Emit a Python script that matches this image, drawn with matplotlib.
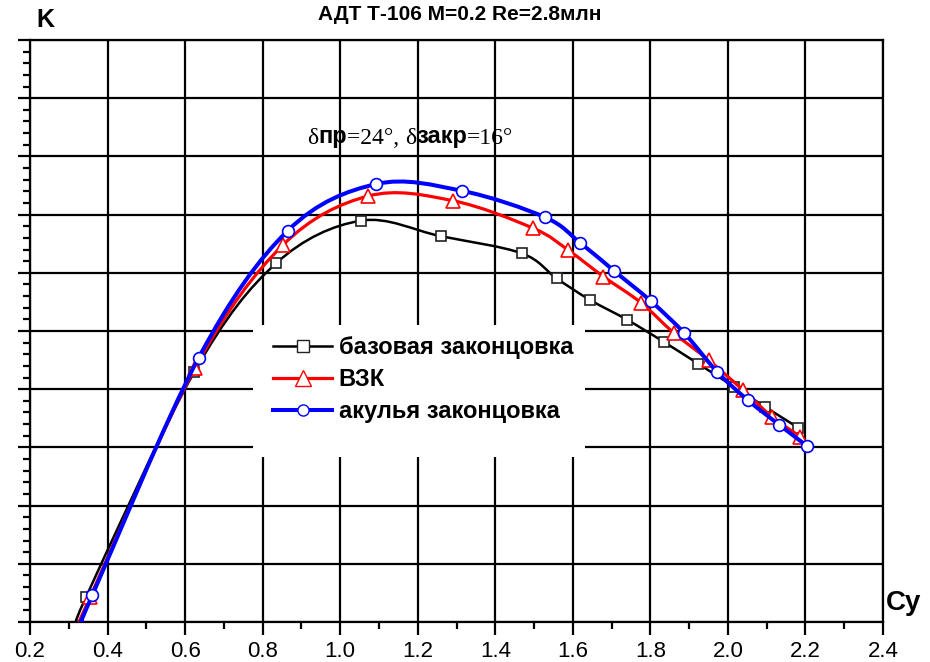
import matplotlib
matplotlib.use("Agg")
import matplotlib.pyplot as plt
from matplotlib.ticker import MultipleLocator, NullFormatter
from matplotlib.offsetbox import TextArea, HPacker, AnchoredOffsetbox
from matplotlib.path import Path
from matplotlib.patches import PathPatch, Rectangle

# ── Data ──────────────────────────────────────────────────────────────────────
base_cy = [0.325, 0.345, 0.624, 0.835, 1.053, 1.259, 1.468, 1.558, 1.644,
           1.741, 1.834, 1.924, 2.015, 2.095, 2.181]
base_k = [0.0, 0.87, 8.60, 12.33, 13.79, 13.26, 12.67, 11.81, 11.07,
          10.38, 9.63, 8.87, 8.09, 7.40, 6.68]

vzk_cy = [0.328, 0.355, 0.626, 0.852, 1.073, 1.290, 1.498, 1.588, 1.679,
          1.776, 1.860, 1.950, 2.039, 2.114, 2.185, 2.200]
vzk_k = [0.0, 0.85, 8.74, 12.95, 14.64, 14.48, 13.53, 12.78, 11.87,
         10.97, 9.94, 9.00, 7.97, 7.05, 6.37, 6.08]

shark_cy = [0.333, 0.361, 0.635, 0.865, 1.093, 1.313, 1.528, 1.619, 1.707,
            1.801, 1.888, 1.972, 2.051, 2.133, 2.204]
shark_k = [0.0, 0.93, 9.08, 13.45, 15.05, 14.82, 13.91, 13.03, 12.06,
           11.03, 9.92, 8.60, 7.63, 6.77, 6.05]

labels = ["базовая законцовка", "ВЗК", "акулья законцовка"]

plt.rcParams.update({
    "font.family": ["Liberation Sans", "DejaVu Sans"],
    "axes.linewidth": 1.6,
})

W, H = 930, 662


def smooth_curve(xs, ys, **kw):
    """Catmull-Rom curve through the points, drawn as Bezier path."""
    verts = [(xs[0], ys[0])]
    codes = [Path.MOVETO]
    n = len(xs)
    for i in range(n - 1):
        x0, y0 = (xs[i - 1], ys[i - 1]) if i > 0 else (xs[i], ys[i])
        x1, y1 = xs[i], ys[i]
        x2, y2 = xs[i + 1], ys[i + 1]
        x3, y3 = (xs[i + 2], ys[i + 2]) if i + 2 < n else (x2, y2)
        c1 = (x1 + (x2 - x0) / 6, y1 + (y2 - y0) / 6)
        c2 = (x2 - (x3 - x1) / 6, y2 - (y3 - y1) / 6)
        verts += [c1, c2, (x2, y2)]
        codes += [Path.CURVE4] * 3
    return PathPatch(Path(verts, codes), fill=False, capstyle="round",
                     joinstyle="round", **kw)


fig = plt.figure(figsize=(W / 100, H / 100), dpi=100)
ax = fig.add_axes([30 / W, 1 - 622 / H, (883 - 30) / W, (622 - 40) / H])

ax.set_xlim(0.2, 2.4)
ax.set_ylim(0, 20)
ax.xaxis.set_major_locator(MultipleLocator(0.2))
ax.xaxis.set_minor_locator(MultipleLocator(0.1))
ax.yaxis.set_major_locator(MultipleLocator(2))
ax.yaxis.set_minor_locator(MultipleLocator(0.4))
ax.yaxis.set_major_formatter(NullFormatter())
ax.xaxis.set_major_formatter(lambda v, p: f"{v:.1f}")
ax.grid(True, which="major", color="black", linewidth=1.6)
ax.tick_params(axis="both", which="major", direction="out", length=9,
               width=1.6, labelsize=16, pad=5)
ax.tick_params(axis="both", which="minor", direction="out", length=5,
               width=1.6)
ax.tick_params(top=False, right=False, which="both")

# curves
ax.add_patch(smooth_curve(base_cy, base_k, edgecolor="black",
                          linewidth=1.8, zorder=3))
ax.plot(base_cy[1:], base_k[1:], linestyle="none", marker="s",
        markersize=7.5, markerfacecolor="white", markeredgecolor="#222222",
        markeredgewidth=1.2, zorder=3)
ax.add_patch(smooth_curve(vzk_cy, vzk_k, edgecolor="red",
                          linewidth=2.3, zorder=4))
ax.plot(vzk_cy[1:-1], vzk_k[1:-1], linestyle="none", marker="^",
        markersize=10, markerfacecolor="white", markeredgecolor="red",
        markeredgewidth=1.2, zorder=4)
ax.add_patch(smooth_curve(shark_cy, shark_k, edgecolor="blue",
                          linewidth=2.9, zorder=5))
ax.plot(shark_cy[1:], shark_k[1:], linestyle="none", marker="o",
        markersize=8.5, markerfacecolor="white", markeredgecolor="blue",
        markeredgewidth=1.2, zorder=5)

# white block behind the legend (hides the grid)
ax.add_patch(Rectangle((253 / W, 1 - 457 / H), (585 - 253) / W,
                       (457 - 325) / H, transform=fig.transFigure,
                       facecolor="white", edgecolor="none", zorder=2))

# legend proxies
h1, = ax.plot([], [], color="black", linewidth=1.8, marker="s", markersize=8,
              markerfacecolor="white", markeredgecolor="#222222")
h2, = ax.plot([], [], color="red", linewidth=2.3, marker="^", markersize=11,
              markerfacecolor="white", markeredgecolor="red")
h3, = ax.plot([], [], color="blue", linewidth=2.9, marker="o", markersize=8,
              markerfacecolor="white", markeredgecolor="blue")
leg = fig.legend([h1, h2, h3], labels, loc="upper left",
                 bbox_to_anchor=(273 / W, 1 - 336 / H),
                 prop={"weight": "bold", "size": 17}, frameon=False,
                 handlelength=2.5, handletextpad=0.28, labelspacing=0.38,
                 borderpad=0, borderaxespad=0)
leg.set_zorder(10)

# texts
fig.text(460 / W, 1 - 14 / H, "АДТ Т-106 M=0.2 Re=2.8млн", ha="center",
         va="center", fontsize=15, fontweight="bold")
fig.text(36 / W, 1 - 20 / H, "K", ha="left", va="center", fontsize=18,
         fontweight="bold")
fig.text(886 / W, 1 - 603 / H, "Cy", ha="left", va="center", fontsize=20,
         fontweight="bold")

serif = {"family": "Liberation Serif", "size": 17}
sans = {"family": "Liberation Sans", "size": 17, "weight": "bold"}
pieces = [("δ", serif), ("пр", sans), ("=24°, ", serif), ("δ", serif),
          ("закр", sans), ("=16°", serif)]
pack = HPacker(children=[TextArea(t, textprops=p) for t, p in pieces],
               align="baseline", pad=0, sep=0)
box = AnchoredOffsetbox(loc="center", child=pack, frameon=False,
                        bbox_to_anchor=(410 / W, 1 - 137 / H),
                        bbox_transform=fig.transFigure, borderpad=0, pad=0)
fig.add_artist(box)

fig.savefig("out.png", dpi=100, facecolor="white")
